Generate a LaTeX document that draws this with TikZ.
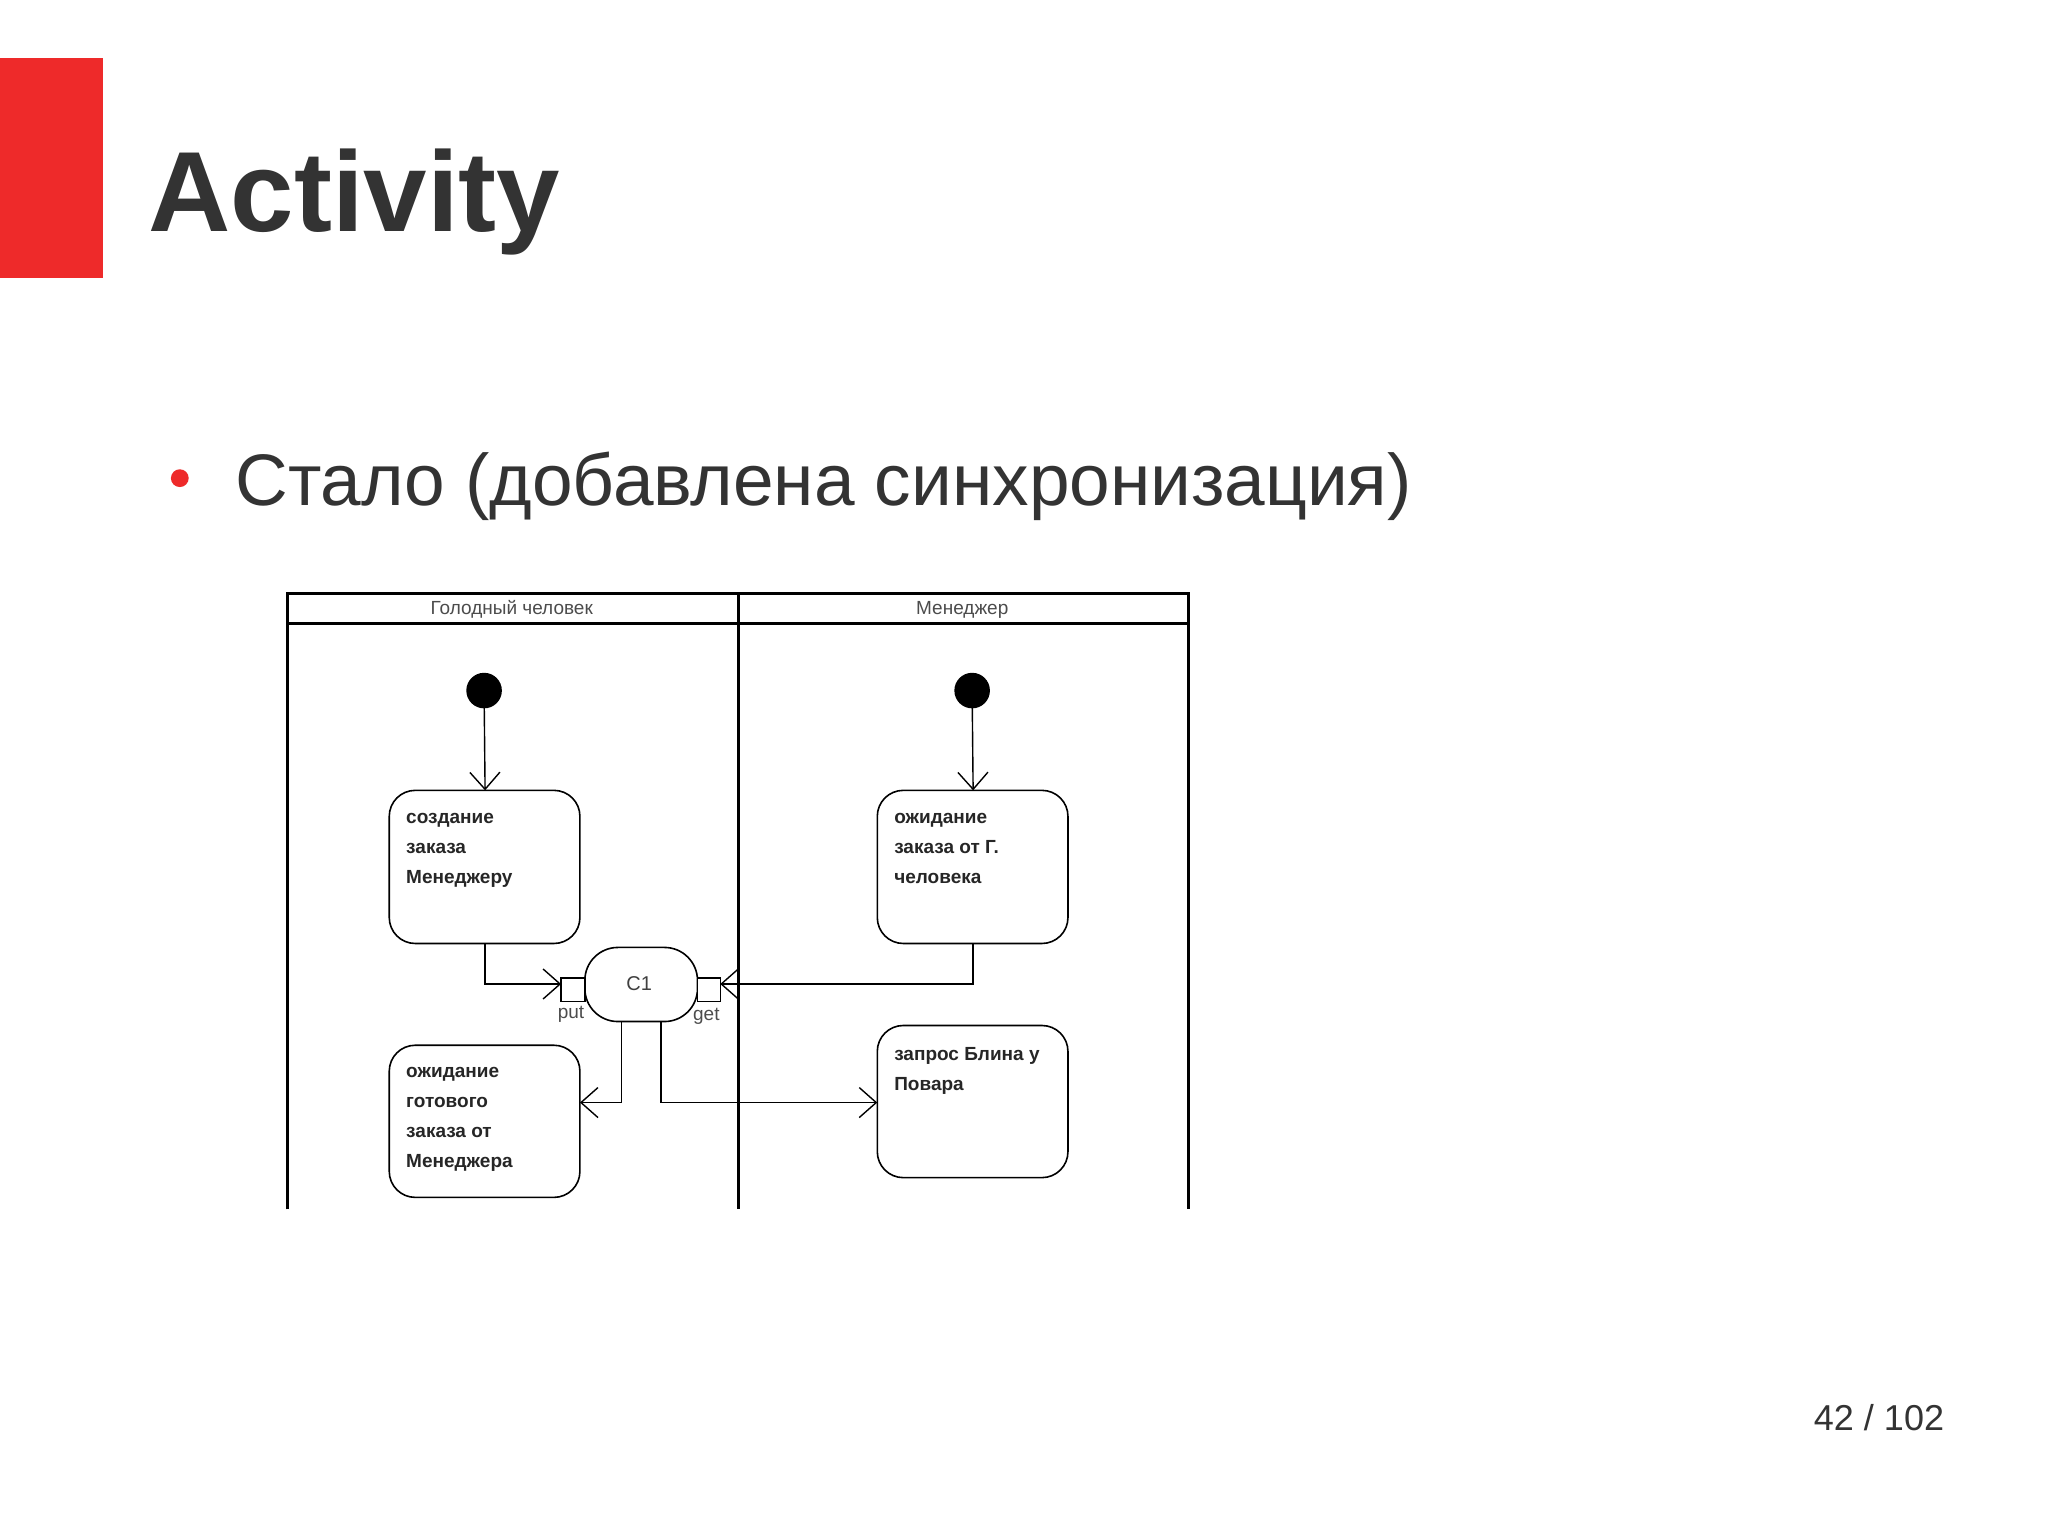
\documentclass[tikz,border=0pt]{standalone}
\usepackage{fontspec}
\setmainfont{Liberation Sans}
\usetikzlibrary{arrows.meta}
\definecolor{txt}{HTML}{333333}
\definecolor{redbar}{HTML}{EE2A2A}
\tikzset{
  act/.style={draw, line width=1.6pt, rounded corners=26pt},
  acttext/.style={anchor=north west, align=left, font=\fontsize{19}{30}\selectfont\bfseries, text=black!85, inner sep=0pt},
  conn/.style={line width=1.4pt, -{Straight Barb[length=17pt,width=30pt,line width=1.4pt]}},
  lane/.style={line width=3pt},
  pin/.style={draw, line width=1.4pt, fill=white},
  small/.style={font=\fontsize{19}{20}\selectfont, text=black!70}
}
\begin{document}
\begin{tikzpicture}[x=0.988pt,y=-0.988pt]
\useasboundingbox[fill=white] (0,0) rectangle (2073,1555);
\fill[redbar] (0,59) rectangle (104,281);
\node[anchor=base west, inner sep=0pt, text=txt, font=\fontsize{114}{120}\selectfont\bfseries] (title) at (150,234) {Activity};
\fill[redbar] (182,484) circle (9);
\node[anchor=base west, inner sep=0pt, text=txt, font=\fontsize{73}{80}\selectfont] (bul) at (238,512) {Стало (добавлена синхронизация)};
\node[anchor=base east, inner sep=0pt, text=txt, font=\fontsize{36}{40}\selectfont] (pg) at (1968,1448) {42 / 102};
% swimlanes
\draw[lane] (291,1224) -- (291,601) -- (1203,601) -- (1203,1224);
\draw[lane] (291,631) -- (1203,631);
\draw[lane] (748,601) -- (748,1224);
\node[small] (l1) at (518,617) {Голодный человек};
\node[small] (l2) at (974,617) {Менеджер};
% start
\fill (490,699) circle (18) coordinate (s1);
\fill (984,699) circle (18) coordinate (s2);
% activities
\draw[act] (394,800) rectangle (587,955); \coordinate (a1) at (491,800);
\node[acttext] (t1) at (411,823) {создание\\заказа\\Менеджеру};
\draw[act] (888,800) rectangle (1081,955); \coordinate (a2) at (985,800);
\node[acttext] (t2) at (905,823) {ожидание\\заказа от Г.\\человека};
\draw[act] (394,1058) rectangle (587,1212);
\node[acttext] (t3) at (411,1080) {ожидание\\готового\\заказа от\\Менеджера};
\draw[act] (888,1038) rectangle (1081,1192);
\node[acttext] (t4) at (905,1060) {запрос Блина у\\Повара};
% C1
\draw[line width=1.6pt, rounded corners=33pt] (592,959) rectangle (706,1034);
\node[font=\fontsize{20}{22}\selectfont, text=black!75] (c1) at (647,996) {C1};
\draw[pin] (568,990) rectangle (592,1014);
\draw[pin] (706,990) rectangle (729,1014);
\node[small] (put) at (578,1027) {put};
\node[small] (get) at (715,1029) {get};
% connectors
\draw[conn] (490,699) -- (a1);
\draw[conn] (984,699) -- (a2);
\draw[conn] (491,955) -- (491,996) -- (568,996);
\draw[conn] (985,955) -- (985,996) -- (729,996);
\draw[conn] (629,1034) -- (629,1116) -- (587,1116);
\draw[conn] (669,1034) -- (669,1116) -- (888,1116);
\end{tikzpicture}
\end{document}
